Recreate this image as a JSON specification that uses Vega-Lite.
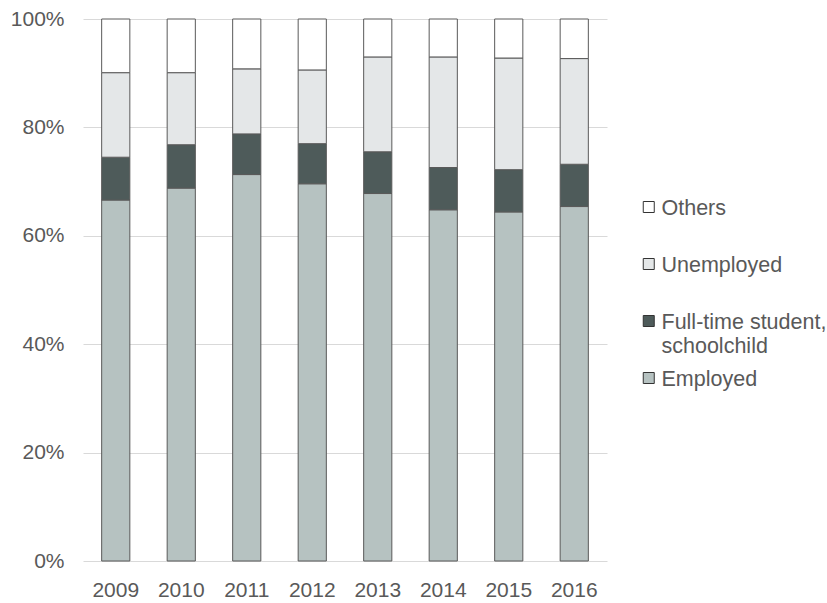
{
  "$schema": "https://vega.github.io/schema/vega-lite/v6.json",
  "width": 524,
  "height": 542,
  "autosize": {"type": "none"},
  "padding": {"left": 83, "top": 19, "right": 220, "bottom": 42},
  "background": "white",
  "config": {
    "view": {"stroke": null},
    "font": "Liberation Sans",
    "axis": {"labelFont": "Liberation Sans", "labelFontSize": 21, "labelColor": "#595959"},
    "legend": {"labelFont": "Liberation Sans", "labelFontSize": 21.5, "labelColor": "#595959"}
  },
  "data": {
    "values": [
      {"year": "2009", "status": "Employed", "rank": 1, "share": 66.6},
      {"year": "2009", "status": "Full-time student, schoolchild", "rank": 2, "share": 7.9},
      {"year": "2009", "status": "Unemployed", "rank": 3, "share": 15.6},
      {"year": "2009", "status": "Others", "rank": 4, "share": 9.9},
      {"year": "2010", "status": "Employed", "rank": 1, "share": 68.8},
      {"year": "2010", "status": "Full-time student, schoolchild", "rank": 2, "share": 8.0},
      {"year": "2010", "status": "Unemployed", "rank": 3, "share": 13.3},
      {"year": "2010", "status": "Others", "rank": 4, "share": 9.9},
      {"year": "2011", "status": "Employed", "rank": 1, "share": 71.3},
      {"year": "2011", "status": "Full-time student, schoolchild", "rank": 2, "share": 7.5},
      {"year": "2011", "status": "Unemployed", "rank": 3, "share": 12.0},
      {"year": "2011", "status": "Others", "rank": 4, "share": 9.2},
      {"year": "2012", "status": "Employed", "rank": 1, "share": 69.6},
      {"year": "2012", "status": "Full-time student, schoolchild", "rank": 2, "share": 7.4},
      {"year": "2012", "status": "Unemployed", "rank": 3, "share": 13.6},
      {"year": "2012", "status": "Others", "rank": 4, "share": 9.4},
      {"year": "2013", "status": "Employed", "rank": 1, "share": 67.8},
      {"year": "2013", "status": "Full-time student, schoolchild", "rank": 2, "share": 7.7},
      {"year": "2013", "status": "Unemployed", "rank": 3, "share": 17.5},
      {"year": "2013", "status": "Others", "rank": 4, "share": 7.0},
      {"year": "2014", "status": "Employed", "rank": 1, "share": 64.8},
      {"year": "2014", "status": "Full-time student, schoolchild", "rank": 2, "share": 7.8},
      {"year": "2014", "status": "Unemployed", "rank": 3, "share": 20.4},
      {"year": "2014", "status": "Others", "rank": 4, "share": 7.0},
      {"year": "2015", "status": "Employed", "rank": 1, "share": 64.4},
      {"year": "2015", "status": "Full-time student, schoolchild", "rank": 2, "share": 7.8},
      {"year": "2015", "status": "Unemployed", "rank": 3, "share": 20.6},
      {"year": "2015", "status": "Others", "rank": 4, "share": 7.2},
      {"year": "2016", "status": "Employed", "rank": 1, "share": 65.4},
      {"year": "2016", "status": "Full-time student, schoolchild", "rank": 2, "share": 7.8},
      {"year": "2016", "status": "Unemployed", "rank": 3, "share": 19.5},
      {"year": "2016", "status": "Others", "rank": 4, "share": 7.3}
    ]
  },
  "mark": {"type": "bar", "stroke": "#5a5a5a", "strokeWidth": 1},
  "encoding": {
    "x": {
      "field": "year",
      "type": "ordinal",
      "scale": {"paddingInner": 0.57, "paddingOuter": 0.285},
      "axis": {"title": null, "labelAngle": 0, "ticks": false, "domain": false, "labelPadding": 18, "grid": false}
    },
    "y": {
      "field": "share",
      "type": "quantitative",
      "stack": "normalize",
      "scale": {"domain": [0, 1]},
      "axis": {"title": null, "format": ".0%", "values": [0, 0.2, 0.4, 0.6, 0.8, 1], "ticks": false, "domain": false, "labelPadding": 19, "gridColor": "#d9d9d9", "gridWidth": 1.2}
    },
    "color": {
      "field": "status",
      "type": "nominal",
      "scale": {
        "domain": ["Others", "Unemployed", "Full-time student, schoolchild", "Employed"],
        "range": ["#ffffff", "#e4e7e8", "#4e5b5a", "#b6c2c1"]
      },
      "legend": {
        "title": null,
        "orient": "none",
        "legendX": 555,
        "legendY": 178,
        "symbolType": "square",
        "symbolSize": 121,
        "symbolStrokeColor": "#333333",
        "symbolStrokeWidth": 1,
        "symbolOpacity": 1,
        "labelOffset": 2,
        "clipHeight": 20,
        "rowPadding": 11,
        "labelLimit": 300,
        "labelBaseline": "alphabetic",
        "labelLineHeight": 25,
        "encode": {"labels": {"update": {"dy": {"value": 8}}}},
        "labelExpr": "datum.label == 'Full-time student, schoolchild' ? ['Full-time student,', 'schoolchild'] : [datum.label, ' ']"
      }
    },
    "order": {"field": "rank", "type": "quantitative"}
  }
}
